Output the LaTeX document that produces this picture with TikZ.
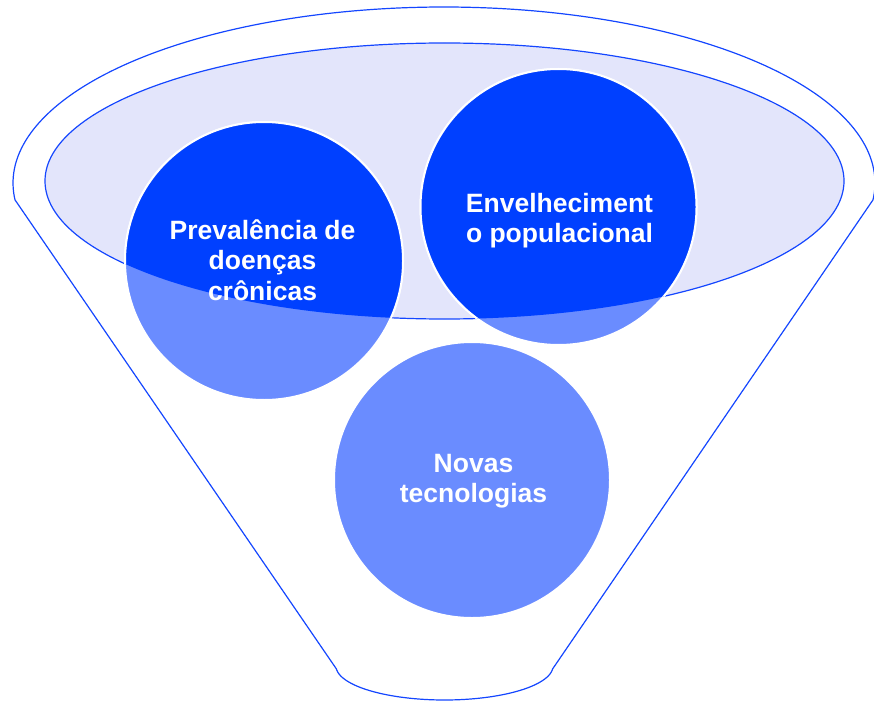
\documentclass[tikz,border=0pt]{standalone}
\usepackage{fontspec}
\setmainfont{Liberation Sans}
\definecolor{lineblue}{RGB}{20,70,255}
\definecolor{darkfill}{RGB}{0,64,255}
\definecolor{lightfill}{RGB}{106,140,255}
\definecolor{lavender}{RGB}{227,229,251}
\begin{document}
\begin{tikzpicture}[x=1pt,y=-1pt,
  outline/.style={draw=lineblue, line width=1.2pt},
  bubble/.style={draw=white, line width=2pt},
  lbl/.style={text=white, font=\bfseries\fontsize{26.5}{30.5}\selectfont, align=center, inner sep=0pt, anchor=base}]
\useasboundingbox (0,0) rectangle (874,703);
% funnel outline
\draw[outline, line join=round]
  plot[domain=185.5:-5.5, samples=150] ({444+431*cos(\x)}, {183-176*sin(\x)})
  -- plot[domain=-5:-175, samples=80] ({444.5+108.5*cos(\x)}, {666-34*sin(\x)})
  -- cycle;
% inner ellipse
\path[fill=lavender, outline] (444.5,181) ellipse [x radius=399.5, y radius=138];
% circles
\coordinate (p1) at (264,261);
\coordinate (p2) at (558.5,207);
\coordinate (p3) at (472,480);
\path[bubble, fill=lightfill] (p1) circle[radius=139];
\path[bubble, fill=lightfill] (p2) circle[radius=138];
\path[bubble, fill=lightfill] (p3) circle[radius=138];
\begin{scope}
  \clip (444.5,181) ellipse [x radius=399.5, y radius=138];
  \path[bubble, fill=darkfill] (p1) circle[radius=139];
  \path[bubble, fill=darkfill] (p2) circle[radius=138];
\end{scope}
% labels (anchor = baseline of last line)
\node[lbl] (t1) at (262.5,300) {Prevalência de\\doenças\\crônicas};
\node[lbl] (t2) at (559.5,242.5) {Envelheciment\\o populacional};
\node[lbl] (t3) at (473.5,502.5) {Novas\\tecnologias};
\end{tikzpicture}
\end{document}
